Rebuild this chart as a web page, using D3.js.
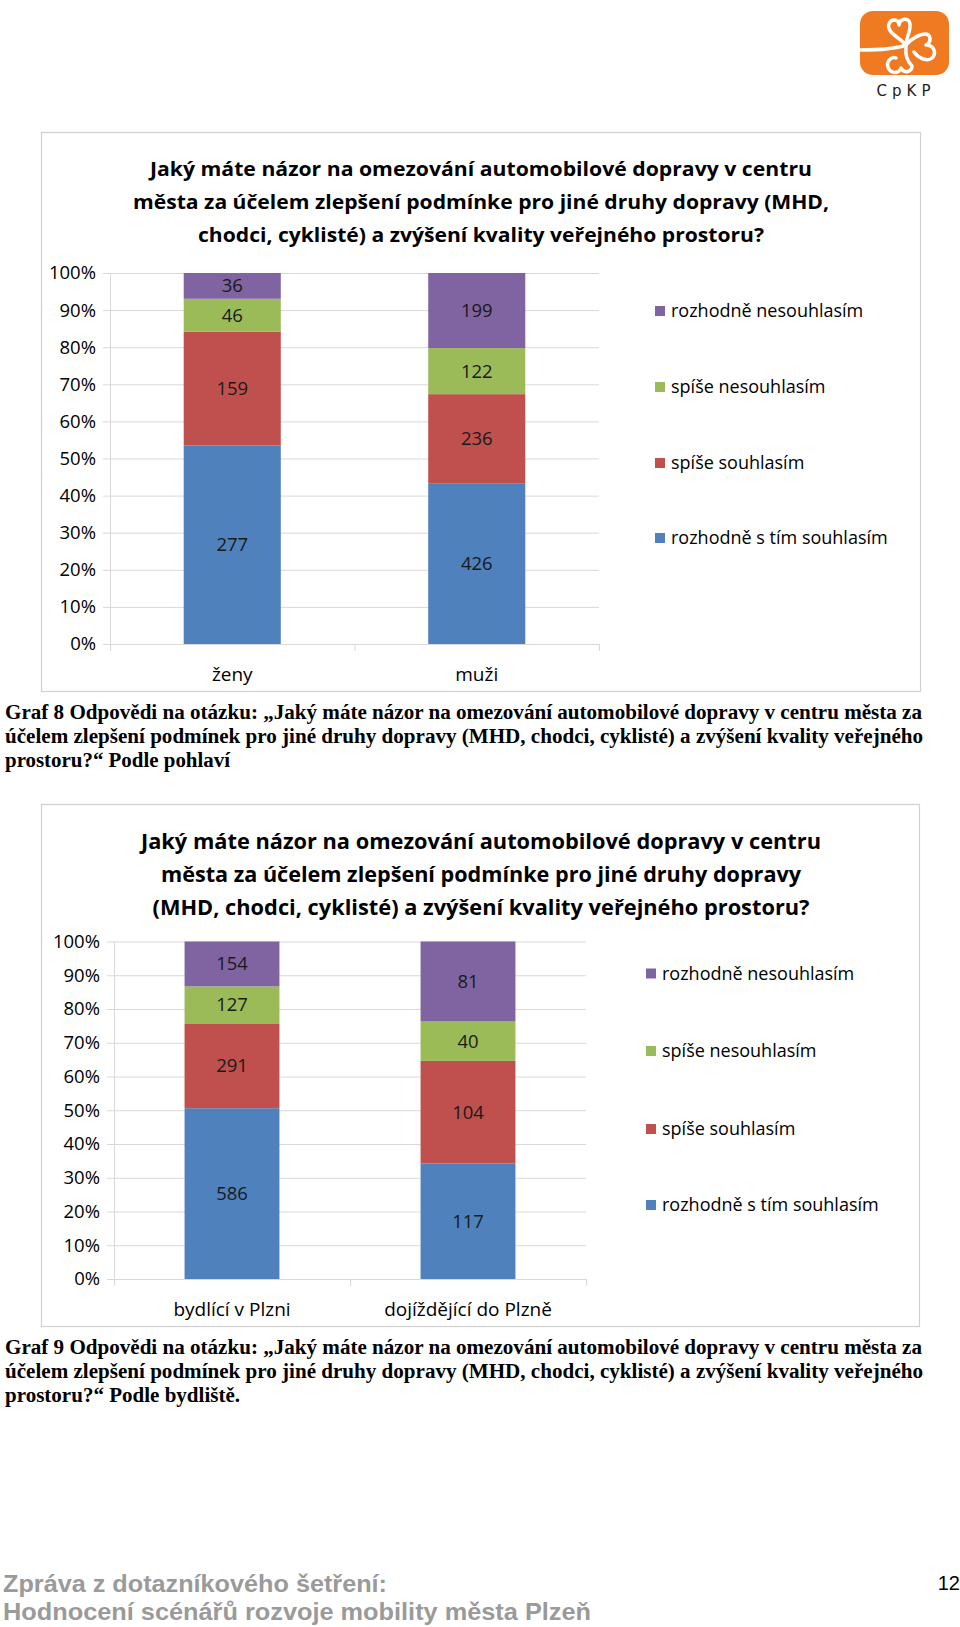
<!DOCTYPE html>
<html><head><meta charset="utf-8">
<script src="https://cdnjs.cloudflare.com/ajax/libs/d3/7.8.5/d3.min.js"></script>
<style>
html,body{margin:0;padding:0;background:#fff;}
svg{display:block;}
</style></head>
<body>
<svg id="page" width="960" height="1627"></svg>
<script>
// ---------- DATA ----------
const seriesNames = ["rozhodně s tím souhlasím", "spíše souhlasím", "spíše nesouhlasím", "rozhodně nesouhlasím"];
const seriesKeys = ["rs", "ss", "sn", "rn"];
const seriesColors = ["#4F81BD", "#C0504D", "#9BBB59", "#8064A2"];

const chart1Categories = ["ženy", "muži"];
const chart1RozhodneSouhlasim = [277, 426];
const chart1SpiseSouhlasim = [159, 236];
const chart1SpiseNesouhlasim = [46, 122];
const chart1RozhodneNesouhlasim = [36, 199];

const chart2Categories = ["bydlící v Plzni", "dojíždějící do Plzně"];
const chart2RozhodneSouhlasim = [586, 117];
const chart2SpiseSouhlasim = [291, 104];
const chart2SpiseNesouhlasim = [127, 40];
const chart2RozhodneNesouhlasim = [154, 81];

const yTickValues = [0, 0.1, 0.2, 0.3, 0.4, 0.5, 0.6, 0.7, 0.8, 0.9, 1.0];

const chart1Title = ["Jaký máte názor na omezování automobilové dopravy v centru",
  "města za účelem zlepšení podmínke pro jiné druhy dopravy (MHD,",
  "chodci, cyklisté) a zvýšení kvality veřejného prostoru?"];
const chart2Title = ["Jaký máte názor na omezování automobilové dopravy v centru",
  "města za účelem zlepšení podmínke pro jiné druhy dopravy",
  "(MHD, chodci, cyklisté) a zvýšení kvality veřejného prostoru?"];
const caption1 = ["Graf 8 Odpovědi na otázku: „Jaký máte názor na omezování automobilové dopravy v centru města za",
  "účelem zlepšení podmínek pro jiné druhy dopravy (MHD, chodci, cyklisté) a zvýšení kvality veřejného",
  "prostoru?“ Podle pohlaví"];
const caption2 = ["Graf 9 Odpovědi na otázku: „Jaký máte názor na omezování automobilové dopravy v centru města za",
  "účelem zlepšení podmínek pro jiné druhy dopravy (MHD, chodci, cyklisté) a zvýšení kvality veřejného",
  "prostoru?“ Podle bydliště."];
const footerLines = ["Zpráva z dotazníkového šetření:", "Hodnocení scénářů rozvoje mobility města Plzeň"];
const pageNumber = "12";

// ---------- HELPERS ----------
const svg = d3.select("#page");
const FONT = "'Open Sans', 'Noto Sans', sans-serif";

function buildRows(cats, a, b, c, d) {
  return cats.map((cat, i) => ({cat, rs: a[i], ss: b[i], sn: c[i], rn: d[i]}));
}

function drawChart(cfg) {
  const g = svg.append("g");
  g.append("rect").attr("x", cfg.frame[0] + 0.5).attr("y", cfg.frame[1] + 0.5)
    .attr("width", cfg.frame[2] - cfg.frame[0]).attr("height", cfg.frame[3] - cfg.frame[1])
    .attr("fill", "#fff").attr("stroke", "#d0d0d0").attr("stroke-width", 1.2);

  cfg.title.forEach((t, i) => {
    g.append("text").attr("x", cfg.titleX).attr("y", cfg.titleY[i])
      .attr("text-anchor", "middle").attr("font-family", FONT).attr("font-weight", "bold")
      .attr("font-size", cfg.titleSize).attr("fill", "#000")
      .attr("textLength", cfg.titleW[i]).attr("lengthAdjust", "spacingAndGlyphs")
      .text(t);
  });

  const rows = buildRows(cfg.cats, cfg.a, cfg.b, cfg.c, cfg.d);
  const stack = d3.stack().keys(seriesKeys).offset(d3.stackOffsetExpand);
  const layers = stack(rows);

  const x = d3.scaleBand().domain(cfg.cats).range([cfg.x0, cfg.x1])
    .paddingInner(cfg.pad).paddingOuter(cfg.pad / 2);
  const y = d3.scaleLinear().domain([0, 1]).range([cfg.y0, cfg.y1]);

  const yAxis = d3.axisLeft(y).tickValues(yTickValues).tickFormat(d3.format(".0%"))
    .tickSize(-(cfg.x1 - cfg.x0)).tickPadding(14);
  const ya = g.append("g").attr("transform", `translate(${cfg.x0},0)`).call(yAxis);
  ya.select(".domain").remove();
  ya.selectAll(".tick line").attr("stroke", "#d9d9d9").attr("x1", -7).attr("stroke-width", 1);
  ya.selectAll(".tick text").attr("font-family", FONT).attr("font-size", 18.5).attr("fill", "#000");
  g.append("line").attr("x1", cfg.x0 + 0.5).attr("x2", cfg.x0 + 0.5).attr("y1", cfg.y1).attr("y2", cfg.y0)
    .attr("stroke", "#d9d9d9");

  layers.forEach((layer, li) => {
    g.append("g").selectAll("rect").data(layer).join("rect")
      .attr("x", d => x(d.data.cat)).attr("width", x.bandwidth())
      .attr("y", d => y(d[1])).attr("height", d => y(d[0]) - y(d[1]))
      .attr("fill", seriesColors[li]);
    g.append("g").selectAll("text").data(layer).join("text")
      .attr("x", d => x(d.data.cat) + x.bandwidth() / 2)
      .attr("y", d => (y(d[0]) + y(d[1])) / 2 + 6.5)
      .attr("text-anchor", "middle").attr("font-family", FONT).attr("font-size", 18.5)
      .attr("fill", "#1a1a1a")
      .text(d => d.data[seriesKeys[li]]);
  });

  const xa = g.append("g").attr("transform", `translate(0,${cfg.y0})`)
    .call(d3.axisBottom(x).tickSize(0).tickPadding(24));
  xa.select(".domain").attr("stroke", "#d9d9d9").attr("d", `M${cfg.x0},0.5H${cfg.x1}`);
  xa.selectAll(".tick text").attr("font-family", FONT).attr("font-size", 19).attr("fill", "#000");
  const bounds = [cfg.x0, (cfg.x0 + cfg.x1) / 2, cfg.x1];
  g.append("g").selectAll("line").data(bounds).join("line")
    .attr("x1", d => d + 0.5).attr("x2", d => d + 0.5).attr("y1", cfg.y0).attr("y2", cfg.y0 + 7)
    .attr("stroke", "#d9d9d9");

  const order = [3, 2, 1, 0];
  order.forEach((si, i) => {
    const ly = cfg.legY[i];
    g.append("rect").attr("x", cfg.legX).attr("y", ly - 5).attr("width", 10).attr("height", 10)
      .attr("fill", seriesColors[si]);
    g.append("text").attr("x", cfg.legX + 16).attr("y", ly + 6).attr("font-family", FONT)
      .attr("font-size", 18).attr("fill", "#000").text(seriesNames[si]);
  });
}

drawChart({
  frame: [41, 132, 920, 691],
  title: chart1Title, titleX: 481, titleY: [176, 209, 241.5], titleSize: 20,
  titleW: [662, 696, 566],
  cats: chart1Categories, a: chart1RozhodneSouhlasim, b: chart1SpiseSouhlasim,
  c: chart1SpiseNesouhlasim, d: chart1RozhodneNesouhlasim,
  x0: 110, x1: 599, y0: 644, y1: 273, pad: 0.603,
  legX: 655, legY: [311, 387, 463, 538]
});

drawChart({
  frame: [41, 804, 919, 1326],
  title: chart2Title, titleX: 481, titleY: [849, 882, 914.5], titleSize: 20.5,
  titleW: [680, 640, 657],
  cats: chart2Categories, a: chart2RozhodneSouhlasim, b: chart2SpiseSouhlasim,
  c: chart2SpiseNesouhlasim, d: chart2RozhodneNesouhlasim,
  x0: 114, x1: 586, y0: 1279, y1: 941.5, pad: 0.598,
  legX: 646, legY: [973.5, 1051, 1129, 1205]
});

function caption(lines, ys, widths) {
  lines.forEach((t, i) => {
    const tx = svg.append("text").attr("x", 5).attr("y", ys[i])
      .attr("font-family", "'Liberation Serif', 'Times New Roman', serif").attr("font-weight", "bold")
      .attr("font-size", 20).attr("fill", "#000").text(t);
    if (widths[i]) tx.attr("textLength", widths[i]).attr("lengthAdjust", "spacingAndGlyphs");
  });
}
caption(caption1, [719, 743, 767], [917, 918, 225]);
caption(caption2, [1354, 1378, 1402], [917, 918, 235]);

footerLines.forEach((t, i) => {
  svg.append("text").attr("x", 3).attr("y", [1592, 1620][i])
    .attr("font-family", "'Liberation Sans', Arial, sans-serif").attr("font-size", 24.5)
    .attr("font-weight", "bold")
    .attr("fill", "#9a9a9a").attr("textLength", [384, 588][i]).attr("lengthAdjust", "spacingAndGlyphs")
    .text(t);
});
svg.append("text").attr("x", 960).attr("y", 1590).attr("text-anchor", "end")
  .attr("font-family", "'Liberation Sans', Arial, sans-serif").attr("font-size", 20)
  .attr("fill", "#000").text(pageNumber);

const logo = svg.append("g");
logo.append("rect").attr("x", 860).attr("y", 11).attr("width", 89).attr("height", 64).attr("rx", 13)
  .attr("fill", "#F07A22");
const wp = {fill: "none", stroke: "#fff", "stroke-width": 3.5, "stroke-linecap": "round", "stroke-linejoin": "round"};
const paths = [
  "M860,50 C880,50 895,49 906,45",
  "M906,45 C900,38 886,32 889,24 C891,18 899,19 899,25 C900,18 909,17 910,24 C911,31 906,38 906,45",
  "M906,45 C912,38 920,34 925,34 C931,34 932,42 926,45 C934,45 937,53 932,58 C927,62 918,58 914,52",
  "M906,47 C905,55 908,62 912,66 C912,72 904,74 901,68 C899,74 890,74 888,67 C886,61 892,56 896,58"
];
paths.forEach(p => {
  const el = logo.append("path").attr("d", p);
  Object.entries(wp).forEach(([k, v]) => el.attr(k, v));
});
logo.append("text").attr("x", 906).attr("y", 96).attr("text-anchor", "middle")
  .attr("font-family", "'DejaVu Sans', sans-serif").attr("font-size", 15)
  .attr("letter-spacing", 5)
  .attr("fill", "#222").text("CpKP");
</script>
</body></html>
